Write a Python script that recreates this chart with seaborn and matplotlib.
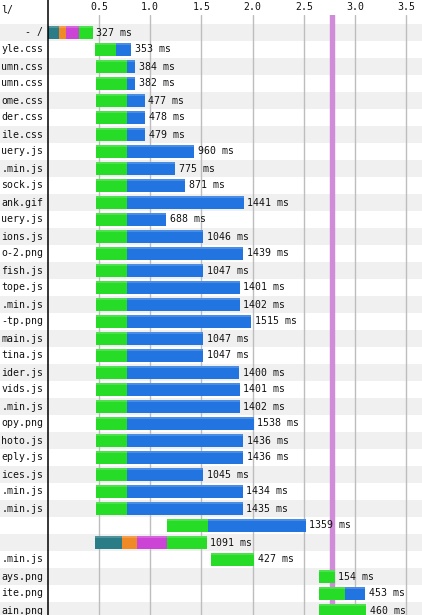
import matplotlib
matplotlib.use("Agg")
import matplotlib.pyplot as plt
import seaborn as sns
import numpy as np
import pandas as pd

# ---------------- data (ms) ----------------
names = ["- /", "yle.css", "umn.css", "umn.css", "ome.css", "der.css", "ile.css",
         "uery.js", ".min.js", "sock.js", "ank.gif", "uery.js", "ions.js", "o-2.png",
         "fish.js", "tope.js", ".min.js", "-tp.png", "main.js", "tina.js", "ider.js",
         "vids.js", ".min.js", "opy.png", "hoto.js", "eply.js", "ices.js", ".min.js",
         ".min.js", "", "", ".min.js", "ays.png", "ite.png", "ain.png"]
durations = [327, 353, 384, 382, 477, 478, 479, 960, 775, 871, 1441, 688, 1046, 1439,
             1047, 1401, 1402, 1515, 1047, 1047, 1400, 1401, 1402, 1538, 1436, 1436, 1045,
             1434, 1435, 1359, 1091, 427, 154, 453, 460]
start = [0, 461, 471, 474, 471, 471, 471] + [470] * 22 + [1160, 461, 1590, 2646, 2646, 2646]
dns = [110] + [0] * 29 + [266] + [0] * 4
connect = [65] + [0] * 29 + [146] + [0] * 4
ssl = [130] + [0] * 29 + [290] + [0] * 4
ttfb = [134, 205, 300, 300, 300, 300, 300] + [303] * 22 + [400, 389, 427, 154, 254, 460]
download = [0, 148, 84, 82, 177, 178, 179] + [d - 303 for d in durations[7:29]] + [959, 0, 0, 0, 199, 0]
tick_vals = [0.5, 1.0, 1.5, 2.0, 2.5, 3.0, 3.5]
tick_labels = ["0.5", "1.0", "1.5", "2.0", "2.5", "3.0", "3.5"]
dom_loaded = 2773  # ms, vertical marker
header = "l/"

df = pd.DataFrame({"name": names, "dur": durations, "start": start, "dns": dns,
                   "connect": connect, "ssl": ssl, "ttfb": ttfb, "download": download})
df["row"] = np.arange(1, len(df) + 1)

# ---------------- style ----------------
sns.set_theme(style="white")
plt.rcParams["font.family"] = ["DejaVu Sans Mono", "DejaVu Sans"]
FS = 7.1

phase_cols = ["dns", "connect", "ssl", "ttfb", "download"]
phase_colors = {"dns": "#2a7c86", "connect": "#f08a26", "ssl": "#cc44d6",
                "ttfb": "#26dc26", "download": "#2274e0"}

W, H = 422, 615
fig = plt.figure(figsize=(W / 100, H / 100), dpi=100)
ax = fig.add_axes([0, 0, 1, (H - 15) / H])

px_per_s = 102.5
x0_px = 47.75
ax.set_xlim(-x0_px / px_per_s, (W - x0_px) / px_per_s)
row_h = 17.0
row1_c = 32.5
ytop = 1 + (15 - row1_c) / row_h
ybot = 1 + (H - row1_c) / row_h
ax.set_ylim(ybot, ytop)

for s in ax.spines.values():
    s.set_visible(False)

# alternating row shading
for r in df["row"]:
    if r % 2 == 1:
        ax.axhspan(r - 0.5, r + 0.5, color="#f0f0f0", zorder=0.2, lw=0)

# grid lines
ax.set_xticks(tick_vals)
ax.set_xticklabels(tick_labels, fontsize=FS, color="#111111")
ax.xaxis.tick_top()
ax.tick_params(axis="x", length=0, pad=2.5)
ax.set_yticks([])
for t in tick_vals:
    ax.axvline(t, color="#bdbdbd", lw=1.0, zorder=0.5)

# document-complete marker
ax.axvline(dom_loaded / 1000, color="#d08cd8", lw=3.9, zorder=0.8)

# left axis line
ax.axvline(0, ymin=0, ymax=H / (H - 15), color="black", lw=1.1, zorder=5, clip_on=False)

# bars
bar_h = 0.76
for _, r in df.iterrows():
    left = r["start"] / 1000
    for p in phase_cols:
        w = r[p] / 1000
        if w > 0:
            ax.barh(r["row"], w, left=left, height=bar_h, color=phase_colors[p],
                    lw=0, zorder=2)
            # slight highlight at top of bar
            ax.barh(r["row"] - bar_h / 2 + 0.06, w, left=left, height=0.12,
                    color="white", alpha=0.18, lw=0, zorder=2.1)
            left += w
    ax.text(left + 0.034, r["row"], f"{r['dur']} ms", fontsize=FS, va="center",
            ha="left", color="#111111", zorder=3)
    if r["name"]:
        ax.text(-0.045, r["row"], r["name"], fontsize=FS, va="center", ha="right",
                color="#111111", zorder=3, clip_on=False)

ax.text(-0.45, 1 + (10 - row1_c) / row_h, header, fontsize=FS, va="center",
        ha="left", color="#111111", clip_on=False)

fig.savefig("out.png", dpi=100)
